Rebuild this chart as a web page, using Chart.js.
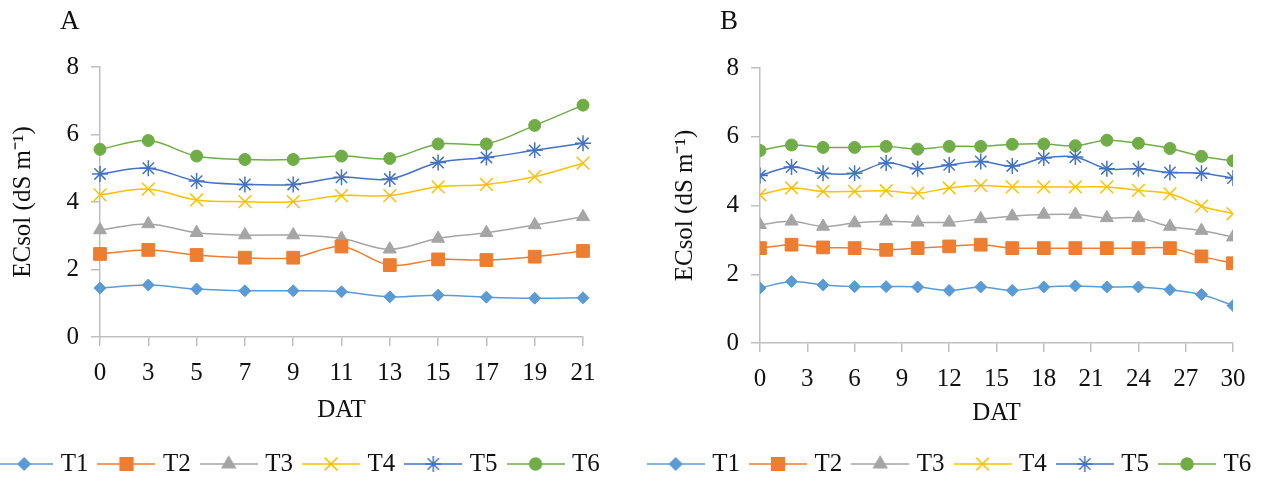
<!DOCTYPE html>
<html>
<head>
<meta charset="utf-8">
<script src="https://cdn.jsdelivr.net/npm/chart.js@4/dist/chart.umd.min.js"></script>
<style>
  body { margin: 0; background: #fff; width: 1269px; height: 489px; overflow: hidden; position: relative; }
  canvas { display: block; }
  #wrapA { position: absolute; left: -20px; top: 0; }
  #wrapB { position: absolute; left: 634px; top: 0; }
</style>
</head>
<body>
<div id="wrapA"><canvas id="chartA" width="640" height="489"></canvas></div>
<div id="wrapB"><canvas id="chartB" width="635" height="489"></canvas></div>
<script>
// panel A: days after transplanting (category ticks)
const daysA = ["0", "3", "5", "7", "9", "11", "13", "15", "17", "19", "21"];
const t1A = [1.45, 1.54, 1.42, 1.37, 1.37, 1.34, 1.19, 1.24, 1.18, 1.15, 1.16];
const t2A = [2.46, 2.58, 2.43, 2.35, 2.35, 2.68, 2.13, 2.30, 2.28, 2.38, 2.55];
const t3A = [3.17, 3.35, 3.09, 3.02, 3.02, 2.92, 2.60, 2.92, 3.09, 3.32, 3.56];
const t4A = [4.21, 4.38, 4.06, 4.01, 4.01, 4.19, 4.19, 4.45, 4.52, 4.75, 5.15];
const t5A = [4.83, 5.00, 4.62, 4.52, 4.52, 4.73, 4.68, 5.17, 5.32, 5.53, 5.74];
const t6A = [5.56, 5.82, 5.36, 5.26, 5.26, 5.36, 5.29, 5.72, 5.72, 6.27, 6.87];

// panel B: measured every 2 days, ticks every 3
const daysB = [0, 2, 4, 6, 8, 10, 12, 14, 16, 18, 20, 22, 24, 26, 28, 30];
const ticksB = [0, 3, 6, 9, 12, 15, 18, 21, 24, 27, 30];
const t1B = [1.60, 1.79, 1.69, 1.64, 1.64, 1.63, 1.53, 1.63, 1.53, 1.63, 1.66, 1.63, 1.63, 1.55, 1.41, 1.09];
const t2B = [2.76, 2.86, 2.78, 2.76, 2.71, 2.76, 2.81, 2.86, 2.76, 2.76, 2.76, 2.76, 2.76, 2.76, 2.52, 2.32];
const t3B = [3.44, 3.54, 3.39, 3.49, 3.54, 3.51, 3.51, 3.61, 3.69, 3.74, 3.74, 3.64, 3.64, 3.39, 3.27, 3.08];
const t4B = [4.31, 4.51, 4.41, 4.41, 4.43, 4.36, 4.51, 4.58, 4.54, 4.54, 4.54, 4.54, 4.44, 4.34, 3.98, 3.76];
const t5B = [4.87, 5.12, 4.94, 4.94, 5.24, 5.07, 5.18, 5.28, 5.15, 5.38, 5.41, 5.07, 5.07, 4.96, 4.94, 4.80];
const t6B = [5.60, 5.76, 5.69, 5.69, 5.72, 5.64, 5.72, 5.72, 5.78, 5.79, 5.74, 5.90, 5.81, 5.66, 5.43, 5.30];

const yTicks = [0, 2, 4, 6, 8];

const seriesNames = ["T1", "T2", "T3", "T4", "T5", "T6"];
const seriesColors = ["#5B9BD5", "#ED7D31", "#A5A5A5", "#FFC000", "#4472C4", "#70AD47"];
const seriesMarkers = ["rectRot", "rect", "triangle", "crossRot", "star", "circle"];
const markerSizes = [6, 9, 7.5, 9, 8, 6];

const axisColor = "#bfbfbf";
const textColor = "#111";

Chart.defaults.font.family = "'Liberation Serif', 'Times New Roman', serif";
Chart.defaults.font.size = 25;
Chart.defaults.color = textColor;

// line + marker picture for the legend, like Excel draws it
function legendIcon(i) {
  const c = document.createElement("canvas");
  c.width = 58;
  c.height = 22;
  const ctx = c.getContext("2d");
  ctx.strokeStyle = seriesColors[i];
  ctx.fillStyle = seriesColors[i];
  ctx.lineWidth = 1.5;
  ctx.beginPath();
  ctx.moveTo(0, 11);
  ctx.lineTo(58, 11);
  ctx.stroke();
  Chart.helpers.drawPoint(ctx, {
    pointStyle: seriesMarkers[i],
    radius: markerSizes[i],
    rotation: 0,
    borderWidth: 1.5,
  }, 29, 11);
  return c;
}

const legendIcons = seriesNames.map((n, i) => legendIcon(i));

const panelLetter = {
  id: "panelLetter",
  afterDraw(chart, args, opts) {
    const ctx = chart.ctx;
    ctx.save();
    ctx.font = "27px 'Liberation Serif', serif";
    ctx.fillStyle = textColor;
    ctx.textBaseline = "alphabetic";
    ctx.fillText(opts.text, chart.chartArea.left + opts.dx, 29);
    ctx.restore();
  },
};

function buildDatasets(seriesValues, xValues) {
  return seriesValues.map((values, i) => ({
    label: seriesNames[i],
    data: xValues ? values.map((v, j) => ({ x: xValues[j], y: v })) : values,
    borderColor: seriesColors[i],
    backgroundColor: seriesColors[i],
    borderWidth: 1.5,
    pointStyle: seriesMarkers[i],
    pointRadius: markerSizes[i],
    pointBorderWidth: i === 3 || i === 4 ? 1.5 : 1,
    tension: 0.35,
  }));
}

function makeOptions(cfg) {
  return {
    responsive: false,
    animation: false,
    layout: { padding: { top: cfg.top, bottom: 2.5, left: 0, right: 0 } },
    scales: {
      x: cfg.x,
      y: {
        min: 0,
        max: 8,
        afterBuildTicks(scale) {
          scale.ticks = yTicks.map((v) => ({ value: v }));
        },
        afterFit(scale) {
          scale.width = cfg.yWidth;
        },
        ticks: { padding: 12, color: textColor, font: { size: 25 } },
        grid: { drawOnChartArea: false, drawTicks: true, tickLength: 9, color: axisColor, lineWidth: 1.5 },
        border: { display: true, color: axisColor, width: 1.5 },
        title: {
          display: true,
          text: "ECsol (dS m\u207B\u00B9)",
          color: textColor,
          font: { size: 25 },
          padding: { top: cfg.yTitlePad, bottom: 0 },
        },
      },
      // empty axis on the right, only to reserve space
      pad: {
        type: "linear",
        position: "right",
        display: true,
        ticks: { display: false },
        grid: { display: false },
        border: { display: false },
        afterFit(scale) {
          scale.width = cfg.rightWidth;
        },
      },
    },
    plugins: {
      tooltip: { enabled: false },
      panelLetter: { text: cfg.letter, dx: -40 },
      legend: {
        position: "bottom",
        labels: {
          usePointStyle: true,
          pointStyleWidth: 48,
          padding: 14,
          color: textColor,
          font: { size: 25 },
          generateLabels(chart) {
            const items = Chart.defaults.plugins.legend.labels.generateLabels(chart);
            items.forEach((item, i) => {
              item.pointStyle = legendIcons[i];
            });
            return items;
          },
        },
      },
    },
  };
}

function xAxis(base, height, titlePad) {
  return Object.assign({
    afterFit(scale) {
      scale.height = height;
    },
    ticks: { padding: 12, color: textColor, font: { size: 25 }, autoSkip: false, maxRotation: 0 },
    grid: { drawOnChartArea: false, drawTicks: true, tickLength: 9, color: axisColor, lineWidth: 1.5 },
    border: { display: true, color: axisColor, width: 1.5 },
    title: { display: true, text: "DAT", color: textColor, font: { size: 25 }, padding: { top: 0, bottom: titlePad } },
  }, base);
}

new Chart(document.getElementById("chartA"), {
  type: "line",
  data: {
    labels: daysA,
    datasets: buildDatasets([t1A, t2A, t3A, t4A, t5A, t6A]),
  },
  options: makeOptions({
    letter: "A",
    top: 67,
    yWidth: 120,
    yTitlePad: 28,
    rightWidth: 37,
    x: xAxis({ type: "category", offset: false }, 100.5, 12.5),
  }),
  plugins: [panelLetter],
});

new Chart(document.getElementById("chartB"), {
  type: "line",
  data: {
    datasets: buildDatasets([t1B, t2B, t3B, t4B, t5B, t6B], daysB),
  },
  options: makeOptions({
    letter: "B",
    top: 68,
    yWidth: 126,
    yTitlePad: 36,
    rightWidth: 36,
    x: xAxis({
      type: "linear",
      min: 0,
      max: 30,
      afterBuildTicks(scale) {
        scale.ticks = ticksB.map((v) => ({ value: v }));
      },
    }, 94.5, 9.5),
  }),
  plugins: [panelLetter],
});
</script>
</body>
</html>
